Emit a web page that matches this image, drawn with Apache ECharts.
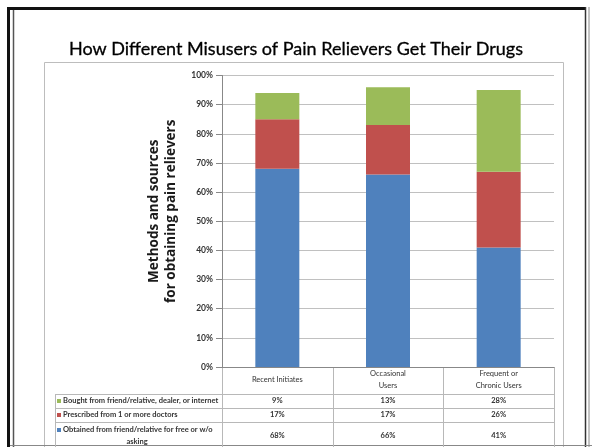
<!DOCTYPE html>
<html><head><meta charset="utf-8">
<script src="https://cdn.jsdelivr.net/npm/echarts@6/dist/echarts.min.js"></script>
<style>html,body{margin:0;padding:0;background:#fff}#c{width:592px;height:447px}</style>
</head><body><div id="c"></div>
<script>
var categories = ['Recent Initiates', 'Occasional\nUsers', 'Frequent or\nChronic Users'];
var seriesNames = ['Obtained from friend/relative for free or w/o asking', 'Prescribed from 1 or more doctors', 'Bought from friend/relative, dealer, or internet'];
var obtained = [68, 66, 41];
var prescribed = [17, 17, 26];
var bought = [9, 13, 28];
var yTicks = [0, 10, 20, 30, 40, 50, 60, 70, 80, 90, 100];
var colors = ['#4F81BD', '#C0504D', '#9BBB59'];

var chart = echarts.init(document.getElementById('c'), null, {renderer: 'canvas'});
var FONT = 'Lato';
var option = {
  animation: false,
  backgroundColor: '#fff',
  title: {
    text: 'How Different Misusers of Pain Relievers Get Their Drugs',
    left: 'center', top: 35,
    textStyle: {fontFamily: FONT, fontSize: 18, fontWeight: 'normal', color: '#000', textBorderColor: '#000', textBorderWidth: 0.3}
  },
  grid: {left: 222, right: 38, top: 75.5, bottom: 80, containLabel: false},
  xAxis: {
    type: 'category', data: categories,
    axisLine: {show: true, lineStyle: {color: '#888', width: 1}},
    axisTick: {show: false},
    axisLabel: {show: false}
  },
  yAxis: {
    type: 'value', min: yTicks[0], max: yTicks[yTicks.length - 1], interval: yTicks[1] - yTicks[0],
    name: 'Methods and sources\nfor obtaining pain relievers',
    nameLocation: 'middle', nameGap: 42, nameRotate: 90,
    nameTextStyle: {fontFamily: 'Open Sans', fontSize: 13.5, fontWeight: 'bold', color: '#1a1a1a', lineHeight: 17, padding: [0, 0, 0, 20]},
    axisLine: {show: true, lineStyle: {color: '#888'}},
    axisTick: {show: true, length: 6, lineStyle: {color: '#888'}},
    axisLabel: {formatter: '{value}%', fontFamily: FONT, fontSize: 8.5, fontWeight: 'bold', color: '#333', margin: 9},
    splitLine: {lineStyle: {color: '#c0c0c0', width: 1}}
  },
  series: [
    {name: seriesNames[0], type: 'bar', stack: 's', data: obtained, barWidth: 44, itemStyle: {color: colors[0]}},
    {name: seriesNames[1], type: 'bar', stack: 's', data: prescribed, barWidth: 44, itemStyle: {color: colors[1]}},
    {name: seriesNames[2], type: 'bar', stack: 's', data: bought, barWidth: 44, itemStyle: {color: colors[2]}}
  ]
};
chart.setOption(option);

// Build data table + frame
var g = [];
var lineC = '#b8b8b8';
function ln(x1, y1, x2, y2, c, w) {
  g.push({type: 'line', shape: {x1: x1, y1: y1, x2: x2, y2: y2}, style: {stroke: c || lineC, lineWidth: w || 1}, silent: true});
}
function tx(x, y, s, opt) {
  opt = opt || {};
  g.push({type: 'text', x: x, y: y, silent: true, style: {text: s, fontFamily: FONT, fontSize: opt.fs || 7.5, fontWeight: opt.fw || 'bold', fill: opt.c || '#333', align: opt.align || 'center', verticalAlign: 'middle', lineHeight: opt.lh || 12}});
}
// frame
g.push({type: 'rect', shape: {x: 44.5, y: 62.5, width: 519, height: 400}, style: {fill: null, stroke: '#bdbdbd', lineWidth: 1}, silent: true});
g.push({type: 'rect', shape: {x: 7, y: 7, width: 579, height: 3}, style: {fill: '#111'}, silent: true});
g.push({type: 'rect', shape: {x: 7, y: 7, width: 3, height: 440}, style: {fill: '#111'}, silent: true});
ln(13.5, 10, 13.5, 447, '#555', 1.5);
ln(585.5, 7, 585.5, 447, '#333', 1.5);
ln(589, 7, 589, 447, '#888', 1);
ln(10, 445.5, 592, 445.5, '#888', 1);

var x0 = chart.convertToPixel({gridIndex: 0}, [0, 0]);
var bottomY = x0[1];
var cx = categories.map(function (c, i) { return chart.convertToPixel({xAxisIndex: 0}, i); });
var step = cx[1] - cx[0];
var leftX = 222, rightX = 554;
var rowY = [bottomY, 394, 408, 422];
// vertical lines
ln(leftX + 0.5, bottomY, leftX + 0.5, 447);
for (var i = 0; i < categories.length; i++) {
  var bx = Math.round(cx[i] + step / 2) + 0.5;
  ln(bx, bottomY, bx, 447);
}
ln(55.5, 394, 55.5, 447);
for (var r = 1; r < rowY.length; r++) ln(55, rowY[r] + 0.5, rightX + 0.5, rowY[r] + 0.5);
// header
categories.forEach(function (c, i) { tx(cx[i], 380, c, {fw: 'normal', lh: 12}); });
// rows: top row is 'bought'
var rows = [bought, prescribed, obtained];
var rowTextY = [401, 415, 436];
var rowColors = [colors[2], colors[1], colors[0]];
var rowNames = [seriesNames[2], seriesNames[1], 'Obtained from friend/relative for free or w/o\nasking'];
rows.forEach(function (arr, r) {
  arr.forEach(function (v, i) { tx(cx[i], rowTextY[r], v + '%'); });
  g.push({type: 'rect', shape: {x: 57, y: (r === 2 ? 430 : rowTextY[r]) - 2, width: 4, height: 4}, style: {fill: rowColors[r]}, silent: true});
});
var lg = {fontFamily: FONT, fontSize: 7.5, fontWeight: 'bold', fill: '#333', verticalAlign: 'middle'};
function lt(x, y, s, al) { g.push({type: 'text', x: x, y: y, silent: true, style: Object.assign({text: s, align: al}, lg)}); }
lt(63, 401, rowNames[0], 'left');
lt(63, 415, rowNames[1], 'left');
lt(63, 430, 'Obtained from friend/relative for free or w/o', 'left');
lt(137, 442, 'asking', 'center');

chart.setOption({graphic: g});
</script></body></html>
